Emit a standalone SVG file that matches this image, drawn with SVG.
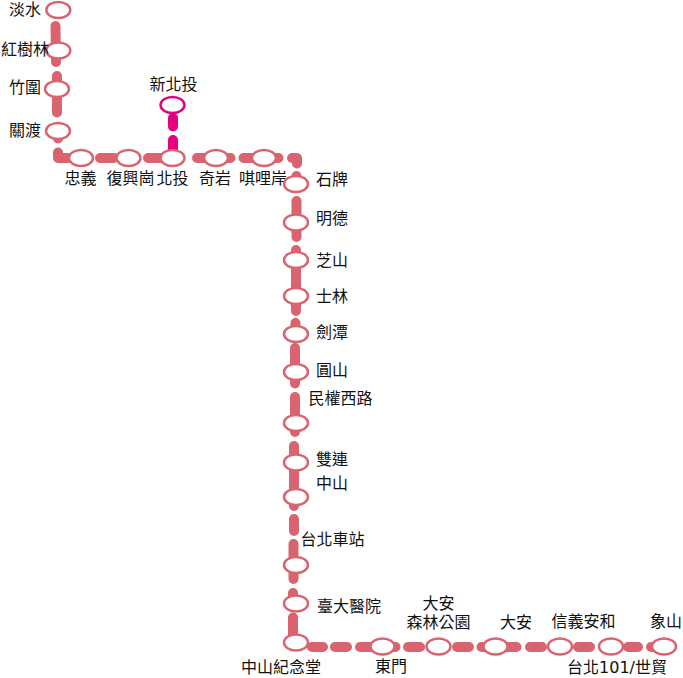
<svg xmlns="http://www.w3.org/2000/svg" width="683" height="678" viewBox="0 0 683 678">
<style>
.l{fill:none;stroke:#d9646f;stroke-width:10;stroke-linecap:round;stroke-linejoin:round}
.b{stroke:#e5007f}
.n{fill:#fff;stroke:#d9646f;stroke-width:2.400}
.p{fill:#fff;stroke:#e5007f;stroke-width:2.400}
text{font-family:"DejaVu Sans","Noto Sans CJK TC",sans-serif;font-size:16px;fill:#111;text-anchor:middle}
</style>
<rect width="683" height="678" fill="#fff"/>
<g id="connectors">
<path class="l" d="M55.500 26L56 62M57 76V112.500M58 135V138.500M58 152.500V158H68M100 158H114M148 158H165M197 158H230.500M243.500 158H278.500M292 158H297V163.500M296.500 176V180M296.500 201V237M296 250V311M295.500 323V330M295 348V383.500M295 397V432M294 446V506M294 519V531M293.500 544V579M293 593V600M293 617.500V640M312 647H323M335 647H347M360 647H395.500M408 647H420M457 647H469M481.500 647H516.500M530 647H542M578 647H590M628 647H638M651 647H660"/>
<path class="l b" d="M173 118V126.500M173 140V150"/>
</g>
<g id="n1"><ellipse class="n" cx="58.300" cy="10" rx="12" ry="8"/><text x="25" y="15">淡水</text></g>
<g id="n2"><ellipse class="n" cx="58.300" cy="50.500" rx="12" ry="8"/><text x="25" y="55">紅樹林</text></g>
<g id="n3"><ellipse class="n" cx="57" cy="89" rx="12" ry="8"/><text x="25" y="93">竹圍</text></g>
<g id="n4"><ellipse class="n" cx="58" cy="131" rx="12" ry="8"/><text x="25" y="136">關渡</text></g>
<g id="n5"><ellipse class="n" cx="81" cy="158" rx="12" ry="8"/><text x="80.500" y="184">忠義</text></g>
<g id="n6"><ellipse class="n" cx="128.500" cy="158" rx="12" ry="8"/><text x="130.500" y="184">復興崗</text></g>
<g id="n7"><ellipse class="n" cx="172.500" cy="158" rx="12" ry="8"/><text x="172.500" y="184">北投</text></g>
<g id="n8"><ellipse class="p" cx="172.500" cy="105" rx="12" ry="8"/><text x="173.500" y="90">新北投</text></g>
<g id="n9"><ellipse class="n" cx="216" cy="158" rx="12" ry="8"/><text x="215" y="184">奇岩</text></g>
<g id="n10"><ellipse class="n" cx="264" cy="158" rx="12" ry="8"/><text x="263" y="184">唭哩岸</text></g>
<g id="n11"><ellipse class="n" cx="296" cy="184" rx="12" ry="8"/><text x="332" y="185">石牌</text></g>
<g id="n12"><ellipse class="n" cx="296" cy="222.500" rx="12" ry="8"/><text x="332" y="224">明德</text></g>
<g id="n13"><ellipse class="n" cx="296" cy="260" rx="12" ry="8"/><text x="332" y="266">芝山</text></g>
<g id="n14"><ellipse class="n" cx="296" cy="296" rx="12" ry="8"/><text x="332" y="302">士林</text></g>
<g id="n15"><ellipse class="n" cx="296" cy="334" rx="12" ry="8"/><text x="332" y="338">劍潭</text></g>
<g id="n16"><ellipse class="n" cx="296" cy="372" rx="12" ry="8"/><text x="332" y="376">圓山</text></g>
<g id="n17"><ellipse class="n" cx="296" cy="423" rx="12" ry="8"/><text x="340.500" y="404">民權西路</text></g>
<g id="n18"><ellipse class="n" cx="296" cy="462.500" rx="12" ry="8"/><text x="332" y="465">雙連</text></g>
<g id="n19"><ellipse class="n" cx="296" cy="497" rx="12" ry="8"/><text x="332" y="489">中山</text></g>
<g id="n20"><ellipse class="n" cx="296" cy="565" rx="12" ry="8"/><text x="332.500" y="545">台北車站</text></g>
<g id="n21"><ellipse class="n" cx="296" cy="603.500" rx="12" ry="8"/><text x="349" y="612">臺大醫院</text></g>
<g id="n22"><ellipse class="n" cx="296" cy="642.500" rx="12" ry="8"/><text x="281" y="673">中山紀念堂</text></g>
<g id="n23"><ellipse class="n" cx="382.500" cy="646.500" rx="12" ry="8"/><text x="391" y="672">東門</text></g>
<g id="n24"><ellipse class="n" cx="438.500" cy="646.500" rx="12" ry="8"/><text x="438.500" y="609">大安</text><text x="438.500" y="628">森林公園</text></g>
<g id="n25"><ellipse class="n" cx="495.500" cy="646.500" rx="12" ry="8"/><text x="516" y="628">大安</text></g>
<g id="n26"><ellipse class="n" cx="560" cy="646.500" rx="12" ry="8"/><text x="583.500" y="627">信義安和</text></g>
<g id="n27"><ellipse class="n" cx="611" cy="646.500" rx="12" ry="8"/><text x="617" y="673">台北101/世貿</text></g>
<g id="n28"><ellipse class="n" cx="664" cy="646.500" rx="12" ry="8"/><text x="666" y="627">象山</text></g>
</svg>
